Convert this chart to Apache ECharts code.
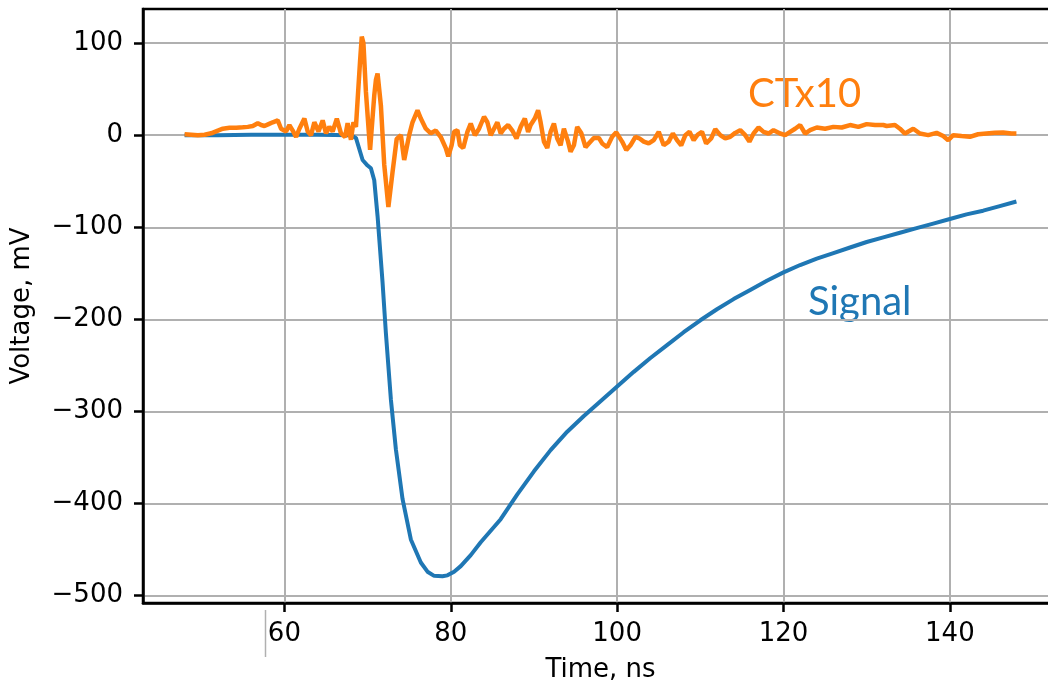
<!DOCTYPE html>
<html>
<head>
<meta charset="utf-8">
<script src="https://cdn.jsdelivr.net/npm/echarts@6/dist/echarts.min.js"></script>
<style>
  html, body { margin: 0; padding: 0; background: #fff; }
  #chart { width: 1048px; height: 685px; }
</style>
</head>
<body>
<div id="chart"></div>
<script>
// Time axis (ns) and voltage axis (mV) tick positions
const xTicks = [60, 80, 100, 120, 140];
const yTicks = [-500, -400, -300, -200, -100, 0, 100];

// Detector signal: [time ns, voltage mV]
const signalTime = [48, 52, 56, 60, 64, 68, 68.6, 69.4, 70.0, 70.4, 70.8, 71.2, 71.8, 72.2, 72.8, 73.4, 74.2, 75.2, 76.4, 77.2, 78.0, 79.0, 79.6, 80.4, 81.2, 82.4, 83.6, 86, 88, 90, 92, 94, 96, 98, 100, 102, 104, 106, 108, 110, 112, 114, 116, 118, 120, 122, 124, 126, 128, 130, 132, 134, 136, 138, 140, 142, 144, 146, 148];
const signalVolt = [0, 0, 0.5, 0.5, 0.5, 0, -3, -27, -33, -36, -49, -88, -160, -215, -287, -341, -395, -439, -464, -474, -478.5, -479, -478, -474, -468, -456, -442, -417, -390, -365, -342, -322, -305, -289, -273, -257, -242, -228, -214, -201, -189, -178, -168, -158, -149, -141, -134, -128, -122, -116, -111, -106, -101, -96, -91, -86, -82, -77, -72];

// Current transformer pickup, scaled x10: [time ns, voltage mV]
const ctTime = [48.0, 48.8, 49.6, 50.4, 51.2, 52.0, 52.6, 53.4, 54.2, 55.0, 55.6, 56.2, 56.8, 57.2, 57.6, 58.1, 58.6, 59.2, 59.6, 60.2, 60.6, 61.0, 61.4, 61.8, 62.4, 62.8, 63.2, 63.6, 64.1, 64.6, 65.0, 65.4, 65.8, 66.3, 66.8, 67.3, 67.6, 68.0, 68.3, 68.6, 68.8, 69.1, 69.3, 69.5, 69.8, 70.3, 70.8, 71.0, 71.2, 71.6, 72.0, 72.5, 73.0, 73.5, 74.0, 74.4, 75.0, 75.4, 76.0, 76.4, 77.0, 77.6, 78.2, 78.8, 79.4, 79.7, 80.1, 80.4, 80.8, 81.1, 81.5, 82.0, 82.4, 82.9, 83.4, 84.0, 84.4, 84.8, 85.2, 85.6, 86.0, 86.4, 86.9, 87.4, 87.9, 88.4, 88.9, 89.3, 89.6, 90.1, 90.5, 90.8, 91.2, 91.6, 92.0, 92.4, 92.8, 93.2, 93.6, 94.1, 94.4, 94.8, 95.2, 95.7, 96.2, 96.7, 97.2, 97.8, 98.2, 98.8, 99.4, 99.9, 100.6, 101.1, 101.6, 102.2, 102.7, 103.2, 103.8, 104.4, 105.0, 105.6, 106.2, 106.7, 107.2, 107.7, 108.2, 108.7, 109.2, 109.7, 110.2, 110.7, 111.3, 111.8, 112.4, 113.0, 113.6, 114.2, 114.8, 115.4, 115.9, 116.4, 117.0, 117.6, 118.2, 118.8, 119.6, 120.2, 120.8, 121.4, 122.0, 122.6, 123.2, 124.0, 125.0, 126.0, 127.0, 128.0, 129.0, 130.0, 131.0, 132.0, 132.4, 133.4, 134.0, 134.6, 135.6, 136.4, 137.4, 138.4, 139.2, 139.8, 140.4, 141.4, 142.4, 143.4, 144.4, 145.4, 146.4, 147.4, 148.0];
const ctVolt = [1, 0.5, 0, 0.5, 2, 5, 7, 8, 8, 8.5, 9, 10, 13, 11, 10, 12, 14, 16, 7, 4, 11, 5, -2, 7, 18, 4, 0, 14, 4, 16, 2, 9, 4, 18, 2, -2, 13, -5, 14, 9, 38, 81, 107, 100, 47, -16, 43, 60, 67, 32, -32, -78, -40, -4, 0, -27, 0, 14, 27, 18, 7, 2, 5, -2, -14, -23, -11, 3.6, 5.4, -11, -14, 3.6, 12.6, 0, 7, 20, 14, 0, 7, 14, 2, 7, 11, 5, -3.6, 9, 18, 3.6, 11, 18, 27, 14, -7, -14, 3.6, 12.6, -3.6, -11, 7, -7, -18, -11, 9, 2, -13, -8, -3, -3, -9, -13, -1.8, 3, -7, -16, -11, -1.8, -3.6, -7, -9, -5.4, 3.6, -11, -7, 1.8, -5.4, -11, 0, 3.6, -5.4, 0.7, 3.6, -9, -3.6, 6.5, 0, -3.6, -1.8, 2.5, 5.4, 0, -7, 1.8, 8.3, 3.6, 1.8, 5.4, 1.8, 0, 3.6, 7, 11, 1.8, 5.4, 8.3, 7, 9, 8.3, 11, 9, 12, 11, 11, 10, 11, 7, 1.8, 7, 1.8, 0, 2.5, -1, -5.4, 0, -1, -1.8, 1, 1.8, 2.5, 3, 1.8, 1.8];

const pair = (xs, ys) => xs.map((x, i) => [x, ys[i]]);
const minusFmt = v => (v < 0 ? '\u2212' + Math.abs(v) : String(v));

const tickFont = { fontFamily: 'DejaVu Sans', fontSize: 26, color: '#000' };
const gridColor = '#b0b0b0';

const chart = echarts.init(document.getElementById('chart'), null, { renderer: 'canvas' });

chart.setOption({
  animation: false,
  backgroundColor: '#fff',
  grid: {
    left: 143, top: 9, width: 915, height: 594,
    outerBoundsMode: 'none', containLabel: false,
    show: true, borderColor: '#000', borderWidth: 2.5, backgroundColor: 'transparent'
  },
  xAxis: {
    type: 'value', min: 43, max: 153,
    name: 'Time, ns', nameLocation: 'middle', nameGap: 54,
    nameTextStyle: tickFont,
    axisLine: { show: true, onZero: false, lineStyle: { color: '#000', width: 2.5 } },
    axisTick: { show: true, customValues: xTicks, length: 9, lineStyle: { color: '#000', width: 2.5 } },
    axisLabel: { customValues: xTicks, margin: 18, ...tickFont },
    splitLine: { show: true, lineStyle: { color: gridColor, width: 2 } }
  },
  yAxis: {
    type: 'value', min: -508, max: 137,
    name: 'Voltage, mV', nameLocation: 'middle', nameGap: 108, nameRotate: 90,
    nameTextStyle: tickFont,
    axisLine: { show: true, onZero: false, lineStyle: { color: '#000', width: 2.5 } },
    axisTick: { show: true, customValues: yTicks, length: 9, lineStyle: { color: '#000', width: 2.5 } },
    axisLabel: { customValues: yTicks, margin: 20, formatter: minusFmt, ...tickFont },
    splitLine: { show: true, lineStyle: { color: gridColor, width: 2 } }
  },
  series: [
    {
      name: 'Signal', type: 'line', data: pair(signalTime, signalVolt),
      showSymbol: false, lineStyle: { color: '#1f77b4', width: 4 }, z: 3
    },
    {
      name: 'CTx10', type: 'line', data: pair(ctTime, ctVolt),
      showSymbol: false, lineStyle: { color: '#ff7f0e', width: 4.5 }, z: 4
    }
  ],
  graphic: [
    { type: 'text', left: 748, top: 74, style: { text: 'CTx10', fill: '#ff7f0e', font: '40px Lato' } },
    { type: 'text', left: 808, top: 282, style: { text: 'Signal', fill: '#1f77b4', font: '40px Lato' } },
    { type: 'line', shape: { x1: 265.5, y1: 610, x2: 265.5, y2: 657 }, style: { stroke: '#b0b0b0', lineWidth: 1.5 } }
  ]
});
</script>
</body>
</html>
